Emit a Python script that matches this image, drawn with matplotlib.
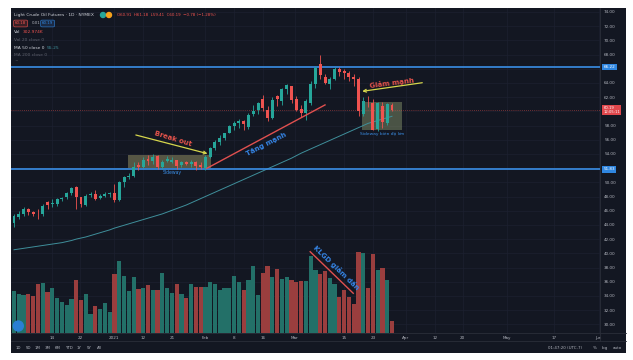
import matplotlib
matplotlib.use("Agg")
import matplotlib.pyplot as plt
import matplotlib.transforms as mtransforms
from matplotlib.patches import Rectangle, Ellipse

# ---------------- data ----------------
dates = ["2020-12-02", "2020-12-03", "2020-12-04", "2020-12-07", "2020-12-08", "2020-12-09",
         "2020-12-10", "2020-12-11", "2020-12-14", "2020-12-15", "2020-12-16", "2020-12-17",
         "2020-12-18", "2020-12-21", "2020-12-22", "2020-12-23", "2020-12-24", "2020-12-28",
         "2020-12-29", "2020-12-30", "2020-12-31",
         "2021-01-04", "2021-01-05", "2021-01-06", "2021-01-07", "2021-01-08", "2021-01-11",
         "2021-01-12", "2021-01-13", "2021-01-14", "2021-01-15", "2021-01-19", "2021-01-20",
         "2021-01-21", "2021-01-22", "2021-01-25", "2021-01-26", "2021-01-27", "2021-01-28",
         "2021-01-29",
         "2021-02-01", "2021-02-02", "2021-02-03", "2021-02-04", "2021-02-05", "2021-02-08",
         "2021-02-09", "2021-02-10", "2021-02-11", "2021-02-12", "2021-02-16", "2021-02-17",
         "2021-02-18", "2021-02-19", "2021-02-22", "2021-02-23", "2021-02-24", "2021-02-25",
         "2021-02-26",
         "2021-03-01", "2021-03-02", "2021-03-03", "2021-03-04", "2021-03-05", "2021-03-08",
         "2021-03-09", "2021-03-10", "2021-03-11", "2021-03-12", "2021-03-15", "2021-03-16",
         "2021-03-17", "2021-03-18", "2021-03-19", "2021-03-22", "2021-03-23", "2021-03-24",
         "2021-03-25", "2021-03-26", "2021-03-29"]

opens = [44.3, 45.1, 45.6, 46.2, 45.8, 45.6, 45.5, 47.2, 46.9, 46.9, 47.6, 48.0, 48.5, 49.3,
         47.9, 46.8, 48.2, 48.4, 47.8, 48.1, 48.4,
         48.5, 47.5, 50.0, 50.7, 50.9, 52.4, 52.2, 53.3, 53.0, 53.7, 52.1, 53.0, 52.9, 53.1,
         52.4, 52.8, 52.6, 52.9, 52.4,
         52.0, 53.6, 54.9, 55.7, 56.3, 57.0, 57.9, 58.4, 58.7, 57.8, 59.6, 60.2, 61.7, 60.2,
         59.0, 62.2, 61.4, 63.2, 63.5,
         61.8, 60.3, 59.7, 61.1, 63.9, 66.7, 64.8, 63.8, 64.6, 65.9, 65.7, 65.4, 64.9, 64.5,
         59.6, 61.5, 61.2, 57.5, 60.7, 58.4, 60.9]
highs = [45.6, 45.9, 46.5, 46.4, 46.0, 46.2, 47.0, 47.4, 47.7, 47.8, 48.0, 48.6, 49.3, 49.5,
         48.0, 48.4, 48.6, 48.9, 48.4, 48.6, 48.6,
         49.8, 50.2, 50.9, 51.3, 52.8, 52.8, 53.5, 53.9, 54.0, 53.9, 53.2, 53.7, 53.6, 53.2,
         53.0, 53.0, 53.1, 53.0, 52.8,
         53.8, 55.0, 55.9, 56.6, 57.0, 58.1, 58.6, 58.9, 58.8, 59.8, 60.9, 61.3, 62.3, 60.7,
         62.0, 62.3, 63.3, 63.8, 63.6,
         62.2, 60.9, 61.7, 64.2, 66.4, 67.9, 65.2, 64.9, 66.2, 66.3, 66.0, 65.7, 65.2, 64.8,
         62.0, 62.2, 61.7, 61.3, 61.3, 61.1, 61.2]
lows = [43.7, 44.8, 45.3, 45.4, 45.2, 44.9, 45.3, 46.2, 46.5, 46.6, 47.3, 47.7, 48.2, 46.2,
        46.5, 46.6, 47.9, 47.5, 47.6, 47.9, 47.9,
        47.2, 47.3, 49.4, 50.4, 50.8, 51.8, 52.0, 52.5, 52.6, 51.9, 51.9, 52.8, 52.7, 51.9,
        52.1, 52.4, 52.2, 51.8, 51.9,
        51.8, 53.4, 54.6, 55.2, 56.0, 56.9, 57.3, 57.7, 57.3, 57.5, 59.3, 59.6, 60.1, 58.6,
        58.9, 60.7, 60.9, 62.5, 61.2,
        60.0, 59.2, 58.8, 60.9, 63.3, 64.6, 63.8, 63.2, 64.4, 65.0, 64.5, 64.3, 63.6, 59.4,
        59.3, 60.6, 57.3, 57.2, 57.6, 58.1, 60.0]
closes = [45.3, 45.6, 46.2, 45.8, 45.6, 45.5, 46.7, 46.8, 47.1, 47.6, 47.8, 48.5, 49.2, 47.9,
          46.9, 48.1, 48.4, 47.7, 48.1, 48.4, 48.5,
          47.5, 50.0, 50.7, 50.9, 52.2, 52.2, 53.2, 53.0, 53.6, 52.2, 52.9, 53.3, 53.1, 52.3,
          52.8, 52.6, 52.9, 52.3, 52.2,
          53.6, 54.8, 55.7, 56.3, 56.9, 57.9, 58.4, 58.7, 58.2, 59.5, 60.0, 61.1, 60.4, 59.0,
          61.6, 61.7, 63.2, 63.7, 61.6,
          60.2, 59.7, 61.4, 63.9, 66.1, 65.1, 64.0, 64.5, 66.0, 65.6, 65.4, 64.8, 64.5, 60.0,
          61.5, 61.4, 57.4, 61.2, 58.5, 61.0, 60.19]
volumes_k = [292, 276, 269, 276, 259, 341, 351, 287, 318, 248, 215, 194, 236, 374, 229, 271,
             131, 187, 171, 208, 145,
             413, 502, 397, 292, 390, 311, 313, 337, 304, 304, 418, 313, 278, 343, 273, 248,
             346, 320, 320,
             322, 360, 346, 299, 315, 315, 399, 357, 299, 374, 467, 264, 420, 472, 392, 446,
             381, 392, 369,
             357, 362, 364, 539, 444, 413, 432, 388, 341, 252, 299, 252, 201, 567, 560, 318,
             556, 444, 455, 369, 84]
ma50 = [40.5, 40.6, 40.7, 40.8, 40.9, 41.0, 41.1, 41.2, 41.3, 41.4, 41.5, 41.65, 41.8, 42.0,
        42.15, 42.3, 42.5, 42.7, 42.9, 43.1, 43.3,
        43.55, 43.75, 43.95, 44.15, 44.35, 44.55, 44.75, 44.95, 45.15, 45.35, 45.55, 45.8,
        46.05, 46.3, 46.55, 46.8, 47.1, 47.4, 47.7,
        48.0, 48.3, 48.6, 48.9, 49.2, 49.5, 49.8, 50.1, 50.4, 50.7, 51.0, 51.3, 51.6, 51.9,
        52.2, 52.5, 52.8, 53.1, 53.4,
        53.75, 54.1, 54.4, 54.7, 55.0, 55.3, 55.6, 55.9, 56.2, 56.5, 56.8, 57.1, 57.4, 57.7,
        58.0, 58.3, 58.5, 58.7, 58.9, 59.1, 59.3]

time_tick_pos = [7.9, 13.8, 20.9, 27.0, 33.0, 39.9, 46.0, 52.0, 58.7, 69.0, 75.0, 81.9,
                 88.0, 93.8, 103.0, 112.8, 122.2]
time_tick_labels = ["14", "22", "2021", "12", "21", "Feb", "8", "16", "Mar", "15", "23",
                    "Apr", "12", "20", "May", "17", "Jun"]
price_ticks = [30, 32, 34, 36, 38, 40, 42, 44, 46, 48, 50, 52, 54, 56, 58, 60, 62, 64, 66,
               68, 70, 72, 74]
hidden_price_ticks = [52, 60, 66]
resistance = 66.22
support = 51.83
last_price = 60.19

# ---------------- style ----------------
BG = "#131722"
UP = "#26a69a"
DN = "#ef5350"
VUP = "#237068"
VDN = "#9a3e3e"
TXT = "#b2b5be"
BLUE = "#3a8ee6"
W, H = 633, 360


def fx(px):
    return px / W


def fy(py):
    return 1 - py / H


fig = plt.figure(figsize=(W / 100, H / 100), dpi=100)
fig.patch.set_facecolor("white")
fig.add_artist(Rectangle((fx(11), fy(353)), fx(626) - fx(11), fy(8) - fy(353),
                         transform=fig.transFigure, facecolor=BG, edgecolor="none", zorder=0))

ax = fig.add_axes([fx(11), fy(333), fx(600) - fx(11), fy(8) - fy(333)])
ax.set_facecolor(BG)
ax2 = ax.twinx()

idx = list(range(len(dates)))
ax.set_xlim(-0.63, 122.47)
ax.set_ylim(28.775, 74.55)

# grid
for p in price_ticks:
    ax.axhline(p, color="#1c2030", lw=0.5, zorder=0.5)
for t in time_tick_pos:
    ax.axvline(t, color="#1c2030", lw=0.5, zorder=0.5)

# boxes
ax.add_patch(Rectangle((23.8, 52.0), 41.2 - 23.8, 53.9 - 52.0, facecolor="#c4be7c",
                       alpha=0.38, edgecolor="none", zorder=2))
ax.add_patch(Rectangle((72.8, 57.37), 81.0 - 72.8, 61.35 - 57.37, facecolor="#9fae7a",
                       alpha=0.40, edgecolor="none", zorder=2))

# moving average
ax.plot(idx, ma50, color="#3f8f9b", lw=0.7, zorder=2.5)

# horizontal levels
ax.axhline(resistance, color=BLUE, lw=1.2, zorder=2.6)
ax.axhline(support, color=BLUE, lw=1.2, zorder=2.6)
ax.axhline(last_price, color=DN, lw=0.5, ls=(0, (1, 2)), alpha=0.8, zorder=2.6)

# candles
up = [c >= o for o, c in zip(opens, closes)]
ccol = [UP if u else DN for u in up]
ax.vlines(idx, lows, highs, colors=ccol, lw=0.6, zorder=3)
bottoms = [min(o, c) for o, c in zip(opens, closes)]
heights = [max(abs(c - o), 0.07) for o, c in zip(opens, closes)]
ax.bar(idx, heights, bottom=bottoms, width=0.62, color=ccol, linewidth=0, zorder=4)

# volume
vcol = [VUP if u else VDN for u in up]
ax2.set_ylim(0, 2275)
ax2.bar(idx, volumes_k, width=0.88, color=vcol, linewidth=0, zorder=1)
ax2.set_yticks([])
ax2.tick_params(right=False, labelright=False)
for s in ax2.spines.values():
    s.set_visible(False)

# annotations
ax.plot([40.3, 65.0], [51.97, 60.9], color="#e0504f", lw=1.0, zorder=5)
ax.annotate("", xy=(41.0, 53.94), xytext=(24.9, 56.76),
            arrowprops=dict(arrowstyle="->", color="#d6d64c", lw=0.9, mutation_scale=5),
            zorder=5)
ax.annotate("", xy=(72.2, 62.76), xytext=(85.9, 64.08),
            arrowprops=dict(arrowstyle="->", color="#d6d64c", lw=0.9, mutation_scale=5),
            zorder=5)
ax.text(33.2, 56.1, "Break out", rotation=-17, color="#e5534b", fontsize=5,
        fontweight="bold", ha="center", va="center", rotation_mode="anchor", zorder=6)
ax.text(52.8, 55.3, "Tăng mạnh", rotation=27, color="#3584e4", fontsize=5,
        fontweight="bold", ha="center", va="center", rotation_mode="anchor", zorder=6)
ax.text(78.9, 64.06, "Giảm mạnh", rotation=7, color="#e5534b", fontsize=5,
        fontweight="bold", ha="center", va="center", rotation_mode="anchor", zorder=6)
ax.text(33.0, 51.35, "Sideway", color=BLUE, fontsize=3.3, ha="center", va="center", zorder=6)
ax.text(77.0, 56.76, "Sideway biên độ lớn", color=BLUE, fontsize=3.2, ha="center",
        va="center", zorder=6)
ax2.plot([61.9, 70.9], [569, 278], color="#e0504f", lw=1.0, zorder=5)
ax2.text(67.4, 455, "KLGD giảm dần", rotation=-44, color="#3584e4", fontsize=5,
         fontweight="bold", ha="center", va="center", rotation_mode="anchor", zorder=6)

# axes ticks
ax.yaxis.tick_right()
ax.set_yticks(price_ticks)
ax.set_yticklabels(["" if p in hidden_price_ticks else f"{p:.2f}" for p in price_ticks])
ax.tick_params(axis="y", length=0, pad=3, labelsize=3.0, colors=TXT)
ax.set_xticks(time_tick_pos)
ax.set_xticklabels(time_tick_labels)
ax.tick_params(axis="x", length=0, pad=2.5, labelsize=3.0, colors=TXT)
for s in ax.spines.values():
    s.set_visible(False)

# price-scale labels
btr = mtransforms.blended_transform_factory(ax.transAxes, ax.transData)
for val in (resistance, support):
    ax.text(1.006, val, f"{val:.2f}", transform=btr, fontsize=3.0, color="white",
            ha="left", va="center", clip_on=False, zorder=7,
            bbox=dict(boxstyle="square,pad=0.3", fc="#2f86e0", ec="none"))
ax.text(1.006, last_price, f"{last_price:.2f}\n12:05:11", transform=btr, fontsize=2.7,
        color="white", ha="left", va="center", clip_on=False, zorder=7, linespacing=1.1,
        bbox=dict(boxstyle="square,pad=0.3", fc="#e0474c", ec="none"))

# separators
fig.add_artist(plt.Line2D([fx(11), fx(626)], [fy(333), fy(333)], transform=fig.transFigure,
                          color="#2a2e39", lw=0.6))
fig.add_artist(plt.Line2D([fx(600), fx(600)], [fy(8), fy(341)], transform=fig.transFigure,
                          color="#2a2e39", lw=0.6))
fig.add_artist(plt.Line2D([fx(11), fx(626)], [fy(341), fy(341)], transform=fig.transFigure,
                          color="#2a2e39", lw=0.6))

# header legend
fs = 3.2
fig.text(fx(14), fy(15), "Light Crude Oil Futures · 1D · NYMEX", fontsize=fs, color="#d1d4dc",
         va="center")
fig.add_artist(Ellipse((fx(103), fy(15)), 5 / W, 5 / H, transform=fig.transFigure,
                       color="#26a69a"))
fig.add_artist(Ellipse((fx(109), fy(15)), 5 / W, 5 / H, transform=fig.transFigure,
                       color="#f7a21b"))
fig.text(fx(117), fy(15), "O60.91  H61.18  L59.41  C60.19  −0.78 (−1.28%)", fontsize=2.9,
         color="#ef5350", va="center")
fig.text(fx(15), fy(23.5), "60.18", fontsize=2.9, color="#ef5350", va="center",
         bbox=dict(boxstyle="round,pad=0.35", fc="#3a1f25", ec="#ef5350", lw=0.4))
fig.text(fx(32), fy(23.5), "0.01", fontsize=2.9, color=TXT, va="center")
fig.text(fx(42), fy(23.5), "60.19", fontsize=2.9, color="#2f86e0", va="center",
         bbox=dict(boxstyle="round,pad=0.35", fc="#1b2a44", ec="#2f86e0", lw=0.4))
fig.text(fx(14), fy(32), "Vol", fontsize=fs, color="#d1d4dc", va="center")
fig.text(fx(23), fy(32), "302.974K", fontsize=fs, color="#ef5350", va="center")
fig.text(fx(14), fy(40), "Vol 20 close 0", fontsize=fs, color="#5d606b", va="center")
fig.text(fx(14), fy(47.7), "MA 50 close 0", fontsize=fs, color="#d1d4dc", va="center")
fig.text(fx(47), fy(47.7), "55.25", fontsize=fs, color="#3f8f9b", va="center")
fig.text(fx(14), fy(55.3), "MA 200 close 0", fontsize=fs, color="#5d606b", va="center")
fig.text(fx(15), fy(62), "^", fontsize=fs, color="#5d606b", va="center")

# logo
fig.add_artist(Ellipse((fx(18.3), fy(326)), 10 / W, 10 / H, transform=fig.transFigure,
                       color="#2a7fd4", zorder=5))

# bottom toolbar
for lab, px in zip(["1D", "5D", "1M", "3M", "6M", "YTD", "1Y", "5Y", "All"],
                   [18, 28, 38, 48, 58, 69, 79, 89, 99]):
    fig.text(fx(px), fy(347.7), lab, fontsize=2.9, color=TXT, ha="center", va="center")
fig.text(fx(565), fy(347.7), "01:47:20 (UTC-7)", fontsize=2.9, color=TXT, ha="center",
         va="center")
for lab, px in zip(["%", "log", "auto"], [595, 605, 617]):
    fig.text(fx(px), fy(347.7), lab, fontsize=2.9, color=TXT, ha="center", va="center")

fig.savefig("out.png", dpi=100, facecolor=fig.get_facecolor())
